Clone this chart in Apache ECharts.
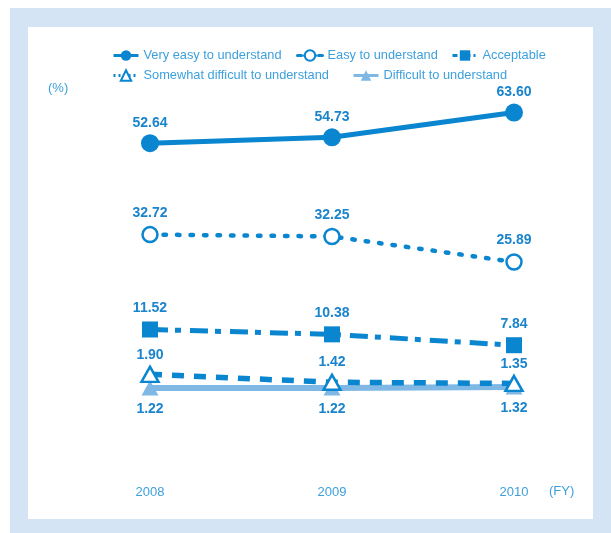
<!DOCTYPE html>
<html>
<head>
<meta charset="utf-8">
<script src="https://cdn.jsdelivr.net/npm/echarts@6/dist/echarts.min.js"></script>
<style>
  html, body { margin: 0; padding: 0; background: #ffffff; }
  #chart { width: 611px; height: 533px; }
</style>
</head>
<body>
<div id="chart"></div>
<script>
// Fiscal years on the horizontal axis
const years = ['2008', '2009', '2010'];

// Survey answer shares (%)
const veryEasy = [52.64, 54.73, 63.60];
const easy = [32.72, 32.25, 25.89];
const acceptable = [11.52, 10.38, 7.84];
const somewhatDifficult = [1.90, 1.42, 1.35];
const difficult = [1.22, 1.22, 1.32];

const seriesNames = [
  'Very easy to understand',
  'Easy to understand',
  'Acceptable',
  'Somewhat difficult to understand',
  'Difficult to understand'
];

// Each answer is drawn in its own vertical band, so each gets a hidden value axis
const bandMin = [-46.6, -13.52, -9.64, -0.867, -1.98];
const bandMax = [68.1, 66.28, 65.16, 18.52, 30.02];

const BLUE = '#0a85cf';
const LIGHT = '#7fb8e4';
const LABEL = '#1a84cc';
const TEXT = '#3da0dd';
const FONT = 'Liberation Sans, Arial, sans-serif';

function numLabel(pos, dist) {
  return {
    show: true, position: pos, distance: dist,
    color: LABEL, fontFamily: FONT, fontWeight: 'bold', fontSize: 14,
    formatter: p => p.value.toFixed(2)
  };
}

const chart = echarts.init(document.getElementById('chart'), null, { renderer: 'canvas' });

// Legend entries are placed one by one in two rows
const legendSpots = [
  { left: 112, top: 49 },
  { left: 296, top: 49 },
  { left: 451, top: 49 },
  { left: 112, top: 69 },
  { left: 352, top: 69 }
];
const legendDash = ['solid', [4, 3], [5, 3, 2, 3], [2, 3], 'solid'];

chart.setOption({
  animation: false,
  backgroundColor: '#ffffff',
  graphic: [
    { type: 'rect', z: -10, shape: { x: 10, y: 8, width: 601, height: 525 }, style: { fill: '#d4e4f4' } },
    { type: 'rect', z: -9, shape: { x: 28, y: 27, width: 565, height: 492 }, style: { fill: '#ffffff' } },
    { type: 'text', left: 48, top: 82, style: { text: '(%)', fill: TEXT, font: '13px ' + FONT } },
    { type: 'text', left: 549, top: 485, style: { text: '(FY)', fill: TEXT, font: '13px ' + FONT } }
  ],
  legend: seriesNames.map((name, i) => ({
    data: [name],
    left: legendSpots[i].left,
    top: legendSpots[i].top,
    padding: 0,
    itemWidth: 25,
    itemHeight: 13,
    selectedMode: false,
    lineStyle: { type: legendDash[i], width: 3 },
    textStyle: { color: TEXT, fontFamily: FONT, fontSize: 12.8 }
  })),
  grid: { left: 150, right: 97, top: 100, bottom: 113 },
  xAxis: {
    type: 'category',
    data: years,
    boundaryGap: false,
    axisLine: { show: false },
    axisTick: { show: false },
    splitLine: { show: false },
    axisLabel: { color: TEXT, fontFamily: FONT, fontSize: 13, margin: 66 }
  },
  yAxis: bandMin.map((mn, i) => ({
    type: 'value', show: false, min: mn, max: bandMax[i], splitLine: { show: false }
  })),
  series: [
    {
      name: seriesNames[0], type: 'line', yAxisIndex: 0, data: veryEasy,
      symbol: 'circle', symbolSize: 18,
      lineStyle: { color: BLUE, width: 5 },
      itemStyle: { color: BLUE },
      label: numLabel('top', 4), z: 5
    },
    {
      name: seriesNames[1], type: 'line', yAxisIndex: 1, data: easy,
      symbol: 'circle', symbolSize: 15,
      lineStyle: { color: BLUE, width: 4.5, type: [2.5, 11], cap: 'round' },
      itemStyle: { color: '#ffffff', borderColor: BLUE, borderWidth: 2.5 },
      label: numLabel('top', 6), z: 5
    },
    {
      name: seriesNames[2], type: 'line', yAxisIndex: 2, data: acceptable,
      symbol: 'rect', symbolSize: 16,
      lineStyle: { color: BLUE, width: 5, type: [18, 7, 6, 9] },
      itemStyle: { color: BLUE },
      label: numLabel('top', 6), z: 5
    },
    {
      name: seriesNames[3], type: 'line', yAxisIndex: 3, data: somewhatDifficult,
      symbol: 'triangle', symbolSize: [17, 15],
      lineStyle: { color: BLUE, width: 5.5, type: [12, 10] },
      itemStyle: { color: '#ffffff', borderColor: BLUE, borderWidth: 2.5 },
      label: numLabel('top', 4), z: 6
    },
    {
      name: seriesNames[4], type: 'line', yAxisIndex: 4, data: difficult,
      symbol: 'triangle', symbolSize: [17, 15],
      lineStyle: { color: LIGHT, width: 6 },
      itemStyle: { color: LIGHT },
      label: numLabel('bottom', 7), z: 4
    }
  ]
});
</script>
</body>
</html>
